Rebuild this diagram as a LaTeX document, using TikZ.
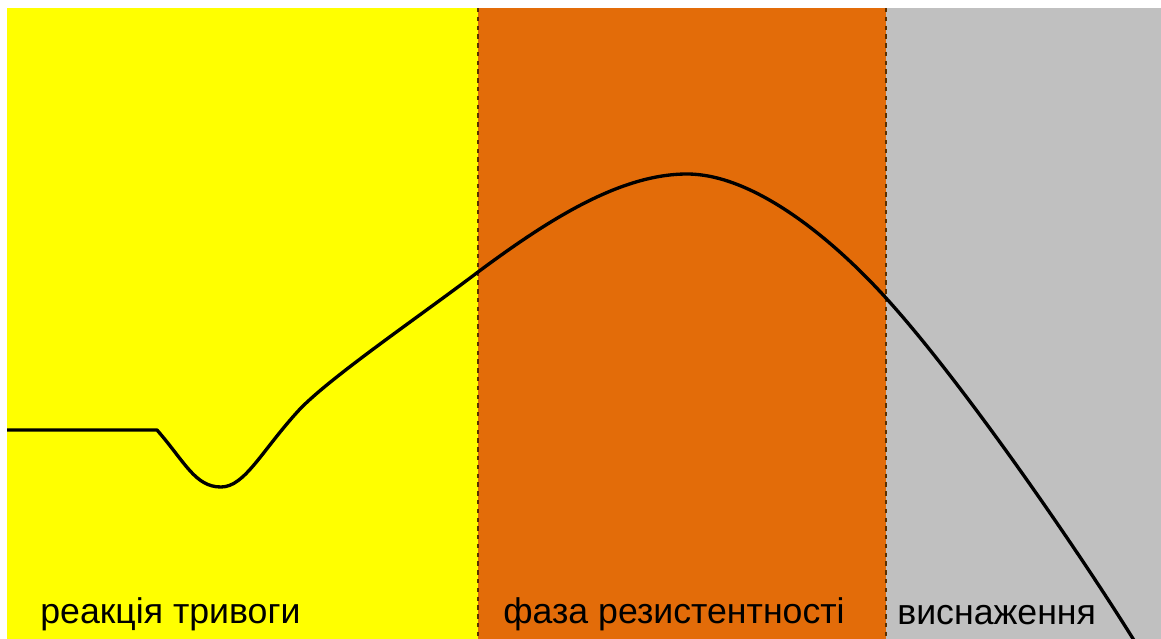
\documentclass[tikz,border=0pt]{standalone}
\usepackage{fontspec}
\setmainfont{Liberation Sans}
\definecolor{alarm}{HTML}{FFFF00}
\definecolor{resist}{HTML}{E36C09}
\definecolor{exhaust}{HTML}{C0C0C0}
\definecolor{edge}{HTML}{5A3000}

\begin{document}
\begin{tikzpicture}[x=0.02cm, y=-0.02cm,
  phase/.style={anchor=base west, inner sep=0pt, font=\fontsize{20.3}{24}\selectfont}]
\useasboundingbox (0,0) rectangle (1161,639);

% Phases
\fill[alarm] (7,8) rectangle (478,639);
\fill[resist] (478,8) rectangle (886,639);
\fill[exhaust] (886,8) rectangle (1161,639);

% Borders
\draw[edge, thick, dash pattern=on 2.5pt off 2.5pt] (478,8) -- (478,639);
\draw[edge, thick, dash pattern=on 2.5pt off 2.5pt] (886,8) -- (886,639);

% Curve
\begin{scope}
\clip (0,0) rectangle (1161,639);
\draw[line width=1.9pt, line join=round] (7,430) -- (157,430)
  .. controls (185,462) and (195,487) .. (221,487)
  .. controls (245,487) and (262,450) .. (300,409)
  .. controls (332,376) and (420,316) .. (478,272)
  .. controls (548,220) and (620,174) .. (687,174)
  .. controls (750,174) and (826,232) .. (886,298)
  .. controls (966,386) and (1088,565) .. (1140,650);
\end{scope}

% Labels
\node[phase] (alarm) at (40,623) {реакція тривоги};
\node[phase] (resist) at (503,623) {фаза резистентності};
\node[phase] (exhaust) at (897,624) {виснаження};

\end{tikzpicture}
\end{document}
